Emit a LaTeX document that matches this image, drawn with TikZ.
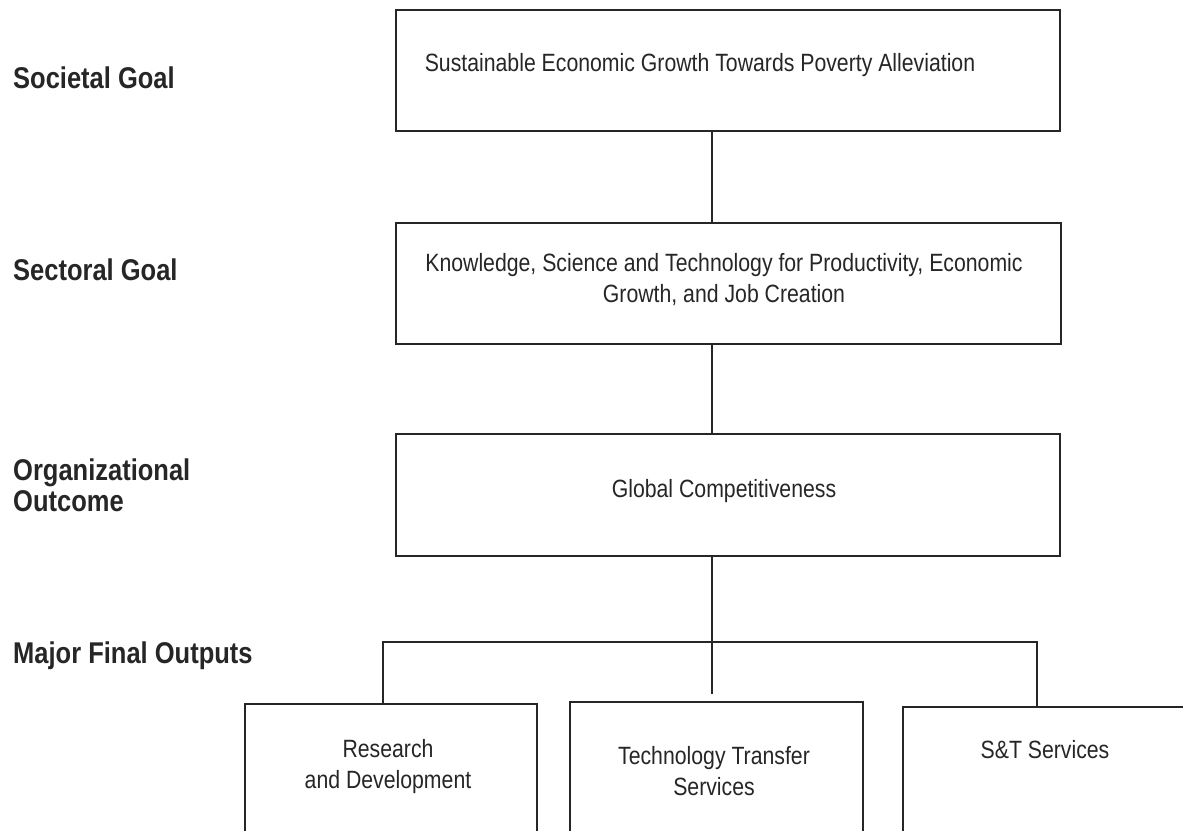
\documentclass[tikz,border=0pt]{standalone}
\usepackage{fontspec}
\setmainfont{Liberation Sans}[FakeStretch=0.85]
\begin{document}
\begin{tikzpicture}[x=1pt,y=-1pt,
  box/.style={draw=black!85,line width=1.8pt,rectangle,inner sep=0pt,anchor=north west},
  txt/.style={font=\fontsize{25}{31}\selectfont,text=black!85,align=center,inner sep=0pt},
  lvl/.style={font=\fontsize{30}{31}\selectfont\bfseries,text=black!85,align=left,inner sep=0pt,anchor=base west},
  conn/.style={draw=black!85,line width=1.8pt}]
\useasboundingbox (0,0) rectangle (1183,830);
\clip (0,0) rectangle (1183,830);
% level labels
\node[lvl] (l1) at (13,88) {Societal Goal};
\node[lvl] (l2) at (13,280) {Sectoral Goal};
\node[lvl] (l3) at (13,511) {Organizational\\Outcome};
\node[lvl] (l4) at (13,663) {Major Final Outputs};
% boxes
\node[box,minimum width=664pt,minimum height=121pt] (soc) at (395,9) {};
\node[box,minimum width=665pt,minimum height=121pt] (sec) at (395,222) {};
\node[box,minimum width=664pt,minimum height=122pt] (glob) at (395,433) {};
\node[box,minimum width=292pt,minimum height=160pt] (rd) at (244,703) {};
\node[box,minimum width=293pt,minimum height=160pt] (tt) at (569,701) {};
\node[box,minimum width=320pt,minimum height=160pt] (st) at (902,706) {};
% texts
\node[txt,anchor=base] (tsoc) at (700,71) {Sustainable Economic Growth Towards Poverty Alleviation};
\node[txt,anchor=base] (tsec) at (724,302) {Knowledge, Science and Technology for Productivity, Economic\\Growth, and Job Creation};
\node[txt,anchor=base] (tglob) at (724,497) {Global Competitiveness};
\node[txt,anchor=base] (trd) at (388,788) {Research\\and Development};
\node[txt,anchor=base] (ttt) at (714,795) {Technology Transfer\\Services};
\node[txt,anchor=base] (tst) at (1045,758) {S\&T Services};
% connectors
\coordinate (spine) at (712,0);
\coordinate (busL) at (383,642);
\coordinate (busR) at (1037,642);
\coordinate (midend) at (712,694);
\draw[conn] (spine |- soc.south) -- (spine |- sec.north);
\draw[conn] (spine |- sec.south) -- (spine |- glob.north);
\draw[conn] (spine |- glob.south) -- (midend);
\draw[conn] (rd.north -| busL) -- (busL) -- (busR) -- (st.north -| busR);
\end{tikzpicture}
\end{document}
